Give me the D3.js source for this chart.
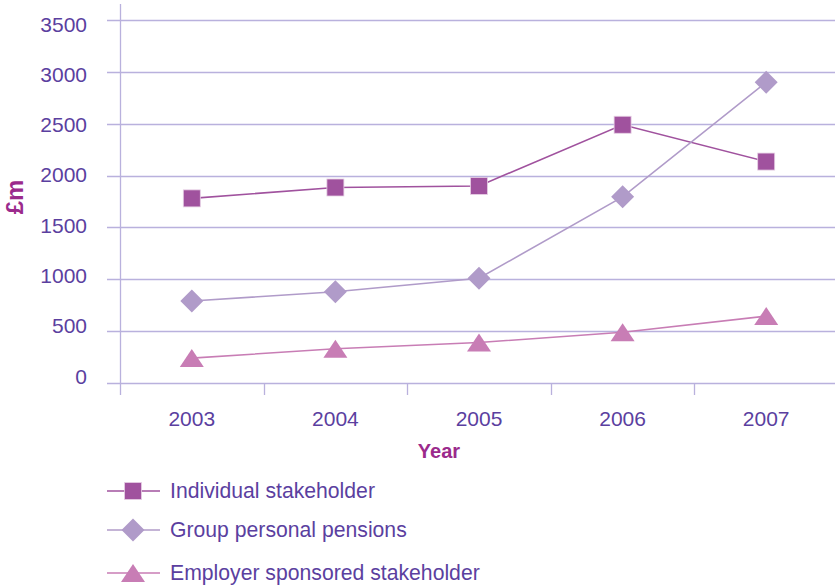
<!doctype html>
<html>
<head>
<meta charset="utf-8">
<title>Stakeholder pensions</title>
<script src="https://d3js.org/d3.v7.min.js"></script>
<style>
  body { margin: 0; background: #fff; }
  text { font-family: "Liberation Sans", Arial, sans-serif; }
</style>
</head>
<body>
<script>
var years = ["2003", "2004", "2005", "2006", "2007"];
var individual = [1780, 1885, 1900, 2490, 2135];
var groupPersonal = [790, 880, 1010, 1795, 2900];
var employer = [240, 330, 390, 490, 645];
var yTicks = [0, 500, 1000, 1500, 2000, 2500, 3000, 3500];
var seriesNames = ["Individual stakeholder", "Group personal pensions", "Employer sponsored stakeholder"];

var width = 835, height = 587;
var textColor = "#5b3f9f";
var titleColor = "#9b2a8c";
var gridColor = "#b9b1dd";

var series = [
  { name: seriesNames[0], values: individual, color: "#a0529e", shape: "square" },
  { name: seriesNames[1], values: groupPersonal, color: "#b09bc9", shape: "diamond" },
  { name: seriesNames[2], values: employer, color: "#c87db5", shape: "triangle" }
];

var svg = d3.select("body").append("svg")
    .attr("width", width)
    .attr("height", height);

var x = d3.scaleBand().domain(years).range([120, 838]).padding(0);
var y = d3.scaleLinear().domain([0, 3500]).range([383, 20]);
// tick labels in the original sit on a slightly tighter spacing than the grid
var yLabel = d3.scaleLinear().domain([0, 3500]).range([376, 24]);

// gridlines
svg.append("g").selectAll("line")
  .data(yTicks)
  .enter().append("line")
    .attr("x1", 107).attr("x2", width)
    .attr("y1", function(d) { return Math.round(y(d)) + 0.5; })
    .attr("y2", function(d) { return Math.round(y(d)) + 0.5; })
    .attr("stroke", gridColor).attr("stroke-width", 1.3);

// y tick labels
svg.append("g").selectAll("text")
  .data(yTicks)
  .enter().append("text")
    .attr("x", 87)
    .attr("y", function(d) { return yLabel(d) + 7.5; })
    .attr("text-anchor", "end")
    .attr("fill", textColor)
    .style("font-size", "21px")
    .text(function(d) { return d; });

// y axis line
svg.append("line")
  .attr("x1", 120.5).attr("x2", 120.5)
  .attr("y1", 4).attr("y2", 395)
  .attr("stroke", gridColor).attr("stroke-width", 1.3);

// x ticks at band boundaries
svg.append("g").selectAll("line")
  .data(years.slice(1))
  .enter().append("line")
    .attr("x1", function(d) { return Math.round(x(d)) + 0.5; })
    .attr("x2", function(d) { return Math.round(x(d)) + 0.5; })
    .attr("y1", 383).attr("y2", 395)
    .attr("stroke", gridColor).attr("stroke-width", 1.3);

// x tick labels
svg.append("g").selectAll("text")
  .data(years)
  .enter().append("text")
    .attr("x", function(d) { return x(d) + x.bandwidth() / 2; })
    .attr("y", 426)
    .attr("text-anchor", "middle")
    .attr("fill", textColor)
    .style("font-size", "21px")
    .text(function(d) { return d; });

// axis titles
svg.append("text")
  .attr("x", 439).attr("y", 458)
  .attr("text-anchor", "middle")
  .attr("fill", titleColor)
  .style("font-size", "20px").style("font-weight", "bold")
  .text("Year");

svg.append("text")
  .attr("transform", "translate(23,197) rotate(-90)")
  .attr("text-anchor", "middle")
  .attr("fill", titleColor)
  .style("font-size", "24px").style("font-weight", "bold")
  .text("£m");

function marker(g, shape, color) {
  if (shape === "square") {
    g.append("rect").attr("x", -8.5).attr("y", -8.5).attr("width", 17).attr("height", 17)
      .attr("fill", color).attr("stroke", "#e6cfe4").attr("stroke-width", 0.8);
  } else if (shape === "diamond") {
    g.append("path").attr("d", "M0,-11.5L11.5,0L0,11.5L-11.5,0Z").attr("fill", color);
  } else {
    g.append("path").attr("d", "M0,-9L12,9L-12,9Z").attr("fill", color);
  }
}

var line = d3.line()
  .x(function(d, i) { return x(years[i]) + x.bandwidth() / 2; })
  .y(function(d) { return y(d); });

series.forEach(function(s) {
  svg.append("path")
    .attr("d", line(s.values))
    .attr("fill", "none")
    .attr("stroke", s.color)
    .attr("stroke-width", 1.6);
  s.values.forEach(function(v, i) {
    var g = svg.append("g")
      .attr("transform", "translate(" + (x(years[i]) + x.bandwidth() / 2) + "," + y(v) + ")");
    marker(g, s.shape, s.color);
  });
});

// legend
var legendY = [491, 530, 573];
series.forEach(function(s, i) {
  var g = svg.append("g").attr("transform", "translate(0," + legendY[i] + ")");
  g.append("line").attr("x1", 107).attr("x2", 160).attr("y1", 0).attr("y2", 0)
    .attr("stroke", s.color).attr("stroke-width", 1.6);
  var m = g.append("g").attr("transform", "translate(133,0)");
  marker(m, s.shape, s.color);
  g.append("text")
    .attr("x", 170).attr("y", 7)
    .attr("fill", textColor)
    .style("font-size", "21.2px")
    .text(s.name);
});
</script>
</body>
</html>
